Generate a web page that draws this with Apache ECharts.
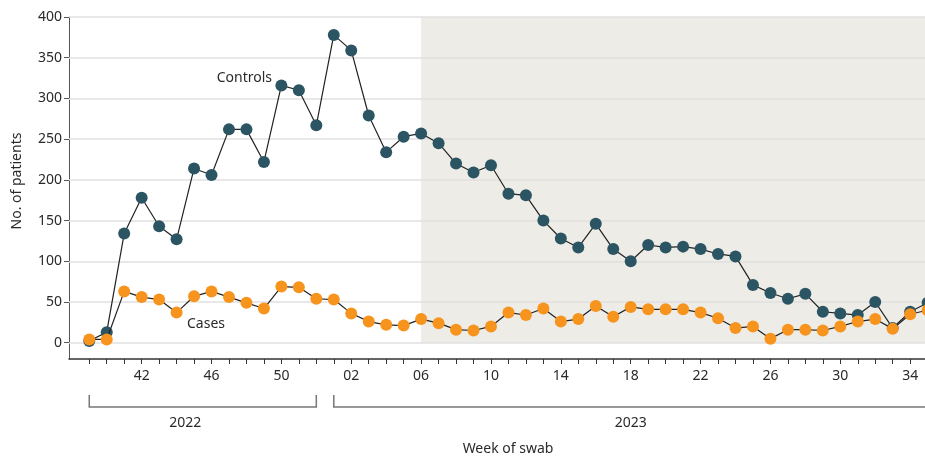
<!DOCTYPE html>
<html><head><meta charset="utf-8">
<script src="https://cdn.jsdelivr.net/npm/echarts@6/dist/echarts.min.js"></script>
<style>html,body{margin:0;padding:0;background:#fff}#c{width:925px;height:457px}</style>
</head><body><div id="c"></div>
<script>
// Week labels (2022 weeks 39-52, then 2023 weeks 01-35)
const weeks2022 = ['39','40','41','42','43','44','45','46','47','48','49','50','51','52'];
const weeks2023 = ['01','02','03','04','05','06','07','08','09','10','11','12','13','14','15','16','17','18','19','20','21','22','23','24','25','26','27','28','29','30','31','32','33','34','35'];
const weeks = weeks2022.concat(weeks2023);

const controls = [2,13,134,178,143,127,214,206,262,262,222,316,310,267,
  378,359,279,234,253,257,245,220,209,218,
  183,181,150,128,117,146,115,100,120,117,
  118,115,109,106,71,61,54,60,38,36,
  34,50,18,38,49];
const cases = [4,4,63,56,53,37,57,63,56,49,42,69,68,54,
  53,36,26,22,21,29,24,16,15,20,
  37,34,42,26,29,45,32,44,41,41,
  41,37,30,18,20,5,16,16,15,20,
  26,29,17,35,40];

const yTicks = [0,50,100,150,200,250,300,350,400];
const xLabelWeeks = ['42','46','50','02','06','10','14','18','22','26','30','34'];
const xbbStartWeek = '06';
const yearLabels = ['2022','2023'];

const FONT = '"Noto Sans", "Open Sans", sans-serif';
const TXT = '#2a2a2a';

const xbbStart = weeks2022.length + weeks2023.indexOf(xbbStartWeek);
const labelIdx = xLabelWeeks.map(w => weeks2022.includes(w) ? weeks2022.indexOf(w) : weeks2022.length + weeks2023.indexOf(w));
const tickIdx = weeks.map((w, i) => i);

const chart = echarts.init(document.getElementById('c'), null, {renderer: 'canvas'});
const XMIN = -1.16, XMAX = 47.85;
chart.setOption({
  animation: false,
  grid: {left: 69, right: 0, top: 17, bottom: 98},
  xAxis: {
    type: 'value', min: XMIN, max: XMAX,
    axisLine: {show: true, onZero: false, lineStyle: {color: '#333', width: 1.5}},
    axisTick: {show: true, length: 5, lineStyle: {color: '#333', width: 1}, customValues: tickIdx.filter(i => i <= XMAX)},
    axisLabel: {show: true, margin: 10, fontSize: 14, color: TXT, fontFamily: FONT,
      customValues: labelIdx, formatter: v => weeks[Math.round(v)]},
    splitLine: {show: false}
  },
  yAxis: {
    type: 'value', min: -20, max: 400,
    axisLine: {show: true, onZero: false, lineStyle: {color: '#555', width: 1}},
    axisTick: {show: true, length: 5, lineStyle: {color: '#555', width: 1}, customValues: yTicks},
    axisLabel: {show: true, margin: 7, fontSize: 14, color: TXT, fontFamily: FONT, customValues: yTicks},
    splitLine: {show: false}
  },
  series: [
    {type: 'line', name: 'shade', data: [], silent: true, z: 1,
      markArea: {silent: true, z: 1, itemStyle: {color: '#edece6'},
        data: [[{xAxis: xbbStart, yAxis: 0}, {xAxis: 'max', yAxis: 400}]]}},
    {type: 'line', name: 'grid', data: [], silent: true, z: 2,
      markLine: {silent: true, z: 2, symbol: ['none','none'], label: {show: false},
        lineStyle: {color: '#e0e0e0', width: 1.5, type: 'solid'},
        data: yTicks.map(v => ({yAxis: v}))}},
    {type: 'line', name: 'Controls', z: 10, clip: false, data: controls.map((v, i) => [i, v]),
      symbol: 'circle', symbolSize: 12, showSymbol: true,
      itemStyle: {color: '#2c5563'}, lineStyle: {color: '#222', width: 1.2}},
    {type: 'line', name: 'Cases', z: 11, clip: false, data: cases.map((v, i) => [i, v]),
      symbol: 'circle', symbolSize: 12, showSymbol: true,
      itemStyle: {color: '#f7941e'}, lineStyle: {color: '#222', width: 1.2}}
  ]
});

function px(i) { return chart.convertToPixel({gridIndex: 0}, [i, 0])[0]; }
const x0 = px(0), x13 = px(weeks2022.length - 1), x14 = px(weeks2022.length);
const bTop = 395, bBot = 407;
const txt = (text, x, y, align, extra) => Object.assign({
  type: 'text', x: x, y: y, silent: true,
  style: {text: text, fill: TXT, fontSize: 14, fontFamily: FONT, align: align || 'center', verticalAlign: 'middle'}
}, extra || {});
chart.setOption({
  graphic: [
    {type: 'polyline', silent: true, shape: {points: [[x0, bTop], [x0, bBot], [x13, bBot], [x13, bTop]]},
      style: {stroke: '#777', lineWidth: 1.5, fill: null}},
    {type: 'polyline', silent: true, shape: {points: [[x14, bTop], [x14, bBot], [940, bBot]]},
      style: {stroke: '#777', lineWidth: 1.5, fill: null}},
    txt(yearLabels[0], px(5.5), 423),
    txt(yearLabels[1], px(31), 423),
    txt('Week of swab', 508, 449),
    txt('No. of patients', 17, 181, 'center', {rotation: Math.PI / 2}),
    txt('Controls', 272, 78, 'right'),
    txt('Cases', 187, 324, 'left'),
    txt('Period of XBB predominance', 674, 121)
  ]
});
</script></body></html>
